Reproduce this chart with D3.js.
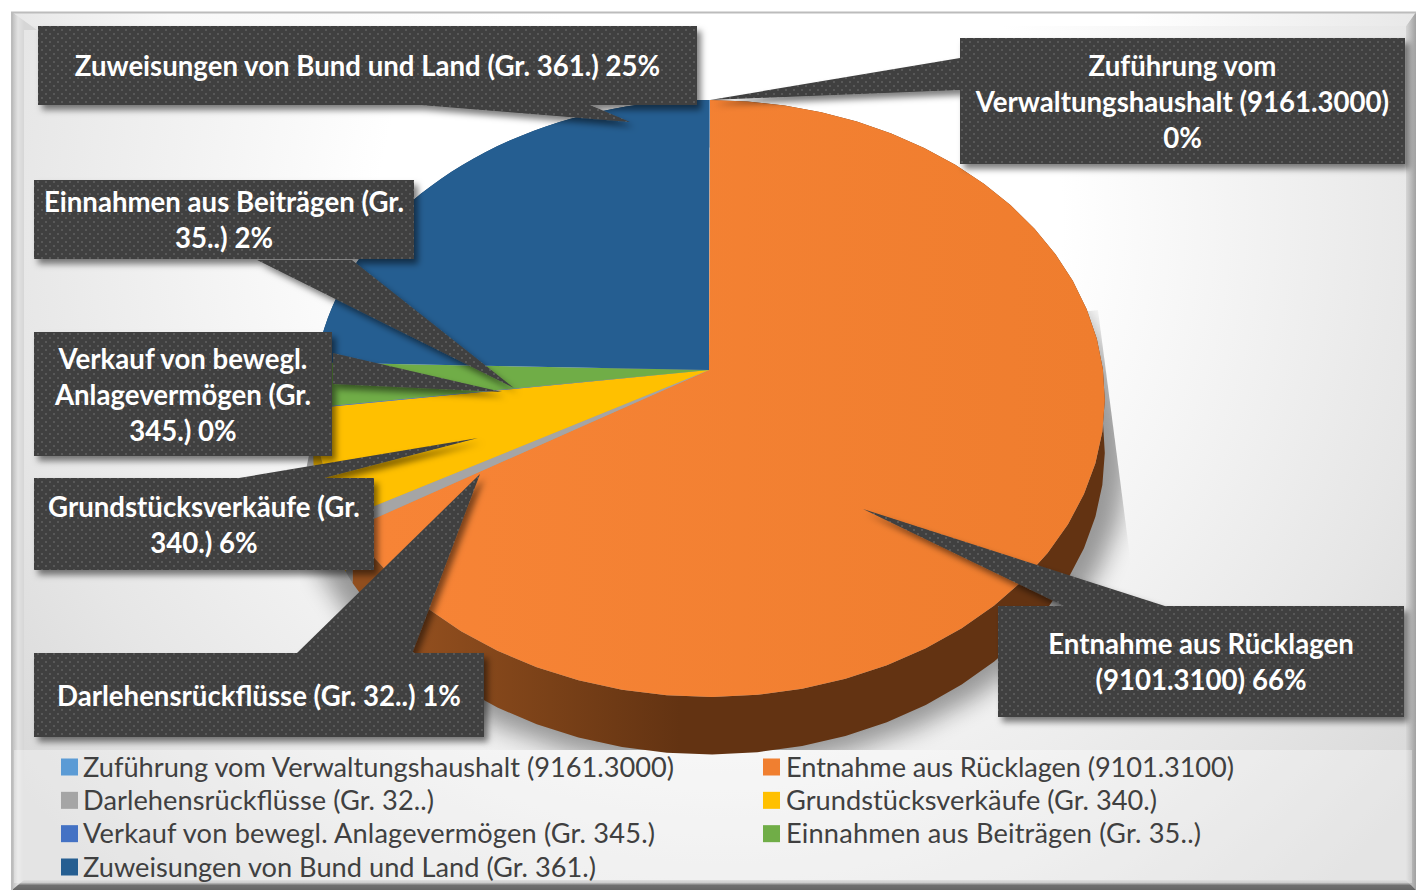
<!DOCTYPE html>
<html><head><meta charset="utf-8">
<script src="https://cdnjs.cloudflare.com/ajax/libs/d3/7.8.5/d3.min.js"></script>
<style>html,body{margin:0;padding:0;background:#fff;overflow:hidden}svg{display:block}</style>
</head><body><svg id="c" width="1416" height="890"></svg>
<script>
const categories=["Zuführung vom Verwaltungshaushalt (9161.3000)","Entnahme aus Rücklagen (9101.3100)","Darlehensrückflüsse (Gr. 32..)","Grundstücksverkäufe (Gr. 340.)","Verkauf von bewegl. Anlagevermögen (Gr. 345.)","Einnahmen aus Beiträgen (Gr. 35..)","Zuweisungen von Bund und Land (Gr. 361.)"];
const values=[0.04,66.46,0.6,5.86,0.04,2.4,24.6];
const colors=["#5B9BD5","#F07F30","#A5A5A5","#FFC000","#4472C4","#70AD47","#255E91"];
const labelLines=[["Zuführung vom","Verwaltungshaushalt (9161.3000)","0%"],["Entnahme aus Rücklagen","(9101.3100) 66%"],["Darlehensrückflüsse (Gr. 32..) 1%"],["Grundstücksverkäufe (Gr.","340.) 6%"],["Verkauf von bewegl.","Anlagevermögen (Gr.","345.) 0%"],["Einnahmen aus Beiträgen (Gr.","35..) 2%"],["Zuweisungen von Bund und Land (Gr. 361.) 25%"]];
// callout boxes [x0,y0,x1,y1] and tails (base, tip, base) in page pixels
const boxes=[[960,38,1405,164],[998,606,1404,717],[34,653,484,737],[34,478,374,570],[34,332,332,456],[34,180,414,259],[38,26,697,105]];
const tails=[[[960,58],[710,100],[960,90]],[[1066,607],[863,509],[1168,607]],[[296,654],[480,474],[412,654]],[[233,479],[478,438],[320,479]],[[333,353],[502,392],[333,384]],[[257,260],[514,388],[352,260]],[[420,105],[630,122],[590,105]]];
const legendWidths=[591,448,351,371,572,415,513];
const labelFont=27.6, legendFont=27.2;

const cx=709,cy=370,R=394,A=295.8,K=-0.0955,D=52;
const svg=d3.select("#c"),defs=svg.append("defs");
const project=(t,r=1,z=0)=>{const X=r*Math.sin(t),Y=-r*Math.cos(t),w=1+K*Y;return [cx+R*X/w,cy+(A*Y+D*z)/w];};

function lin(id,x1,y1,x2,y2,stops){const g=defs.append("linearGradient").attr("id",id).attr("gradientUnits","userSpaceOnUse").attr("x1",x1).attr("y1",y1).attr("x2",x2).attr("y2",y2);stops.forEach(s=>g.append("stop").attr("offset",s[0]).attr("stop-color",s[1]));}
lin("leftB",12,0,24,0,[[0,"#bcbcbc"],[.5,"#e2e2e2"],[1,"#d6d6d6"]]);
lin("rightB",1406,0,1416,0,[[0,"#d6d6d6"],[1,"#a0a0a0"]]);
lin("topB",0,0,1416,0,[[0,"#e6e6e6"],[.12,"#f8f8f8"],[.4,"#fff"],[.8,"#fff"],[1,"#e8e8e8"]]);
lin("botB",0,879,0,890,[[0,"#dcdcdc"],[.45,"#a8a8a8"],[.55,"#707070"],[1,"#666"]]);
lin("oTop",380,0,1100,0,[[0,"#F78436"],[1,"#EF7D2E"]]);
lin("oSide",420,0,680,0,[[0,"#914E1E"],[.5,"#7A4118"],[1,"#633312"]]);
const rg=defs.append("radialGradient").attr("id","bg").attr("gradientUnits","userSpaceOnUse").attr("cx",720).attr("cy",220).attr("r",900);
[[0,"#ffffff"],[.38,"#ffffff"],[.8,"#e6e6e6"],[1,"#d8d8d8"]].forEach(s=>rg.append("stop").attr("offset",s[0]).attr("stop-color",s[1]));

const pat=defs.append("pattern").attr("id","dots").attr("patternUnits","userSpaceOnUse").attr("width",8).attr("height",8);
pat.append("rect").attr("width",8).attr("height",8).attr("fill","#404040");
[[1,1],[5,5]].forEach(p=>pat.append("rect").attr("x",p[0]).attr("y",p[1]).attr("width",2).attr("height",2).attr("fill","#595959"));

const sh=defs.append("filter").attr("id","shadow").attr("x","-10%").attr("y","-10%").attr("width","125%").attr("height","130%");
sh.append("feDropShadow").attr("dx",4).attr("dy",5).attr("stdDeviation",3).attr("flood-color","#000").attr("flood-opacity",.5);
defs.append("filter").attr("id","blur").attr("x","-20%").attr("y","-20%").attr("width","140%").attr("height","140%").append("feGaussianBlur").attr("stdDeviation",12);
defs.append("clipPath").attr("id","shClip").append("polygon").attr("points","1098,310 1133,580 1140,750 300,750 300,500 320,400");

// frame and background
svg.append("rect").attr("x",12).attr("y",12).attr("width",1404).attr("height",878).attr("fill","url(#bg)");
svg.append("polygon").attr("points","12,12 37,30 24,30 24,880 12,890").attr("fill","url(#leftB)");
svg.append("polygon").attr("points","1416,12 1406,26 1406,880 1416,890").attr("fill","url(#rightB)");
svg.append("polygon").attr("points","12,12 1416,12 1406,26 32,26").attr("fill","url(#topB)");
svg.append("polygon").attr("points","12,890 24,880 1406,880 1416,890").attr("fill","url(#botB)");
svg.append("path").attr("d","M12,890V12.5H1416").attr("fill","none").attr("stroke","#bcbcbc").attr("stroke-width",2);

// pie geometry
const pie=d3.pie().sort(null).value(d=>d)(values);
const line=d3.line();
const rim=(a0,a1)=>d3.range(0,41).map(i=>a0+(a1-a0)*i/40);

// pie's soft shadow
const shadowPts=rim(0,2*Math.PI).map(t=>{const p=project(t);return [p[0]+ (p[0]-cx)*.06,p[1]+55+(p[1]-cy)*.05];});
svg.append("g").attr("clip-path","url(#shClip)").append("path").attr("d",line(shadowPts)+"Z").attr("fill","#000").attr("opacity",.38).attr("filter","url(#blur)");

// legend band
svg.append("rect").attr("x",14).attr("y",750).attr("width",1398).attr("height",133).attr("fill","#fff").attr("opacity",.32);

// walls, then top faces
const gPie=svg.append("g");
pie.forEach((s,i)=>{
  const ts=rim(s.startAngle,s.endAngle);
  const pts=ts.map(t=>project(t)).concat(ts.slice().reverse().map(t=>project(t,1,1)));
  gPie.append("path").attr("d",line(pts)+"Z").attr("fill",i===1?"url(#oSide)":d3.color(colors[i]).darker(.8)+"");
});
pie.forEach((s,i)=>{
  const pts=[project(0,0)].concat(rim(s.startAngle,s.endAngle).map(t=>project(t)));
  gPie.append("path").attr("d",line(pts)+"Z").attr("fill",i===1?"url(#oTop)":colors[i]);
});

// legend
const rowsY=d3.scalePoint().domain([0,1,2,3]).range([767,867]);
const colX=[61,763];
const lg=svg.append("g");
categories.forEach((c,i)=>{
  const col=i%2,row=Math.floor(i/2),y=rowsY(row);
  lg.append("rect").attr("x",colX[col]).attr("y",y-8.5).attr("width",17).attr("height",17).attr("fill",colors[i]);
  lg.append("text").attr("x",colX[col]+22+col).attr("y",y-1).attr("dominant-baseline","central").attr("font-family","Lato").attr("font-size",legendFont)
    .attr("textLength",legendWidths[i]).attr("lengthAdjust","spacing").attr("fill","#404040").text(c);
});

// callouts
const gC=svg.append("g");
boxes.forEach((b,i)=>{
  const g=gC.append("g").attr("filter","url(#shadow)");
  g.append("polygon").attr("points",tails[i].join(" ")).attr("fill","url(#dots)");
  g.append("rect").attr("x",b[0]).attr("y",b[1]).attr("width",b[2]-b[0]).attr("height",b[3]-b[1]).attr("fill","url(#dots)");
});
boxes.forEach((b,i)=>{
  const ls=labelLines[i],mx=(b[0]+b[2])/2,my=(b[1]+b[3])/2;
  ls.forEach((t,j)=>{
    gC.append("text").attr("x",mx).attr("y",my+(j-(ls.length-1)/2)*36).attr("text-anchor","middle").attr("dominant-baseline","central")
      .attr("font-family","Lato").attr("font-weight",700).attr("font-size",labelFont).attr("fill","#fff").text(t);
  });
});
</script></body></html>
